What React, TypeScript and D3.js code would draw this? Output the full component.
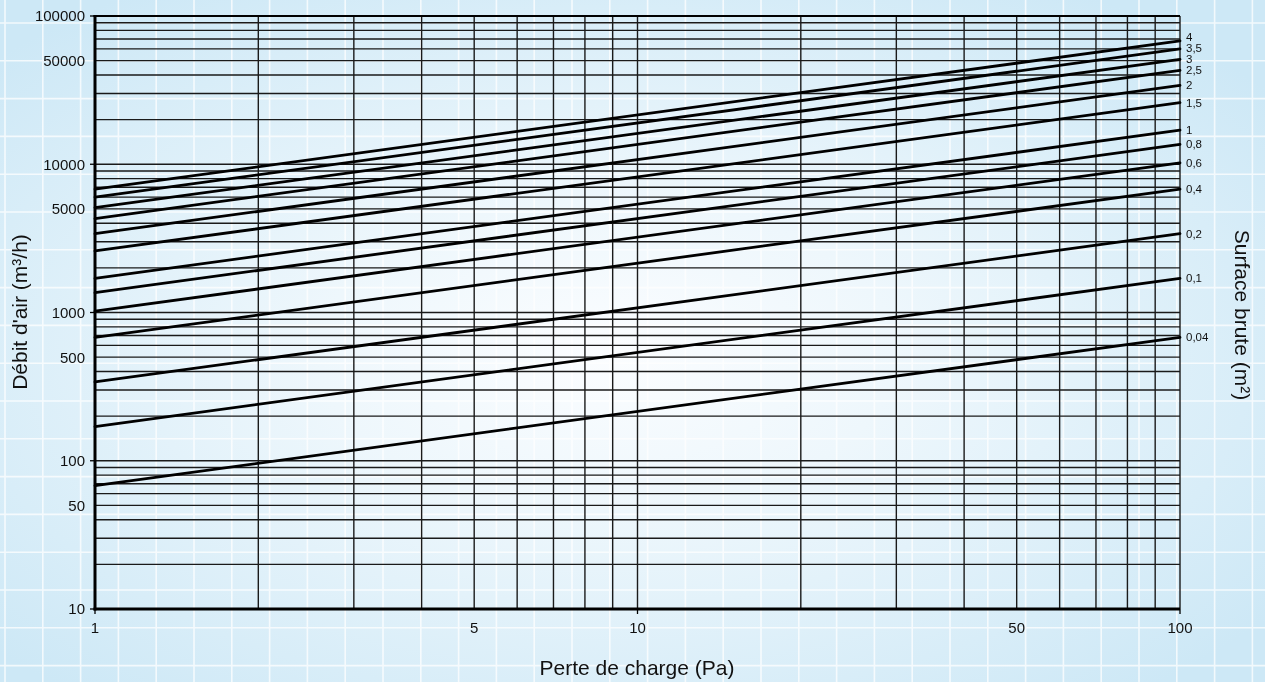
import React from "react";
import * as d3 from "d3";

// Surfaces brutes (m²) and air flow (m³/h) read at 1 Pa and 100 Pa
const surfaces = ["4", "3,5", "3", "2,5", "2", "1,5", "1", "0,8", "0,6", "0,4", "0,2", "0,1", "0,04"];
const flowAt1Pa = [6800, 6000, 5100, 4300, 3400, 2600, 1700, 1360, 1020, 680, 340, 170, 68];
const flowAt100Pa = [68000, 60000, 51000, 43000, 34000, 26000, 17000, 13600, 10200, 6800, 3400, 1700, 680];
const pressureEnds = [1, 100];

const xTickLabels = [1, 5, 10, 50, 100];
const yTickLabels = [10, 50, 100, 500, 1000, 5000, 10000, 50000, 100000];
const xDecades = [1, 10, 100];
const yDecades = [10, 100, 1000, 10000, 100000];

const W = 1265;
const H = 682;
const FONT = "'Liberation Sans', Arial, Helvetica, sans-serif";

export default function App() {
  const x = d3.scaleLog().domain([1, 100]).range([95, 1180]);
  const y = d3.scaleLog().domain([10, 100000]).range([609, 16]);
  const line = d3
    .line<[number, number]>()
    .x((d) => x(d[0]))
    .y((d) => y(d[1]));

  const step = 37.8;
  const bgV: number[] = [];
  for (let v = 5; v < W; v += step) bgV.push(v);
  const bgH: number[] = [];
  for (let v = 23 - step; v < H; v += step) if (v > 0) bgH.push(v);

  // label positions: at line ends, pushed apart (bottom-up) to keep them readable
  const labelY = flowAt100Pa.map((v) => y(v) + 1);
  for (let i = labelY.length - 2; i >= 0; i--) {
    if (labelY[i] > labelY[i + 1] - 11) labelY[i] = labelY[i + 1] - 11;
  }

  const fmt = (v: number) => String(v);

  return (
    <svg
      width={W}
      height={H}
      style={{ position: "fixed", left: 0, top: 0, display: "block" }}
      fontFamily={FONT}
    >
      <defs>
        <radialGradient id="bg" cx="48%" cy="52%" r="65%">
          <stop offset="0%" stopColor="#fbfdff" />
          <stop offset="35%" stopColor="#eef7fc" />
          <stop offset="100%" stopColor="#cde8f6" />
        </radialGradient>
      </defs>
      <rect x={0} y={0} width={W} height={H} fill="url(#bg)" />
      <g stroke="#ffffff" strokeWidth={1.6} opacity={0.75}>
        {bgV.map((v, i) => (
          <line key={"bv" + i} x1={v} x2={v} y1={0} y2={H} />
        ))}
        {bgH.map((v, i) => (
          <line key={"bh" + i} x1={0} x2={W} y1={v} y2={v} />
        ))}
      </g>

      {/* grid */}
      <g stroke="#1a1a1a" strokeWidth={1.4}>
        {y.ticks().map((t, i) => (
          <line key={"gy" + i} x1={x(1)} x2={x(100)} y1={y(t)} y2={y(t)} />
        ))}
        {x.ticks().map((t, i) => (
          <line key={"gx" + i} x1={x(t)} x2={x(t)} y1={y(10)} y2={y(100000)} />
        ))}
      </g>

      {/* axes */}
      <g stroke="#000" fill="none">
        <line x1={x(1)} x2={x(1)} y1={y(100000) - 1} y2={y(10) + 1.5} strokeWidth={3} />
        <line x1={x(1) - 1.5} x2={x(100)} y1={y(10)} y2={y(10)} strokeWidth={3} />
        <line x1={x(1) - 1.5} x2={x(100)} y1={y(100000)} y2={y(100000)} strokeWidth={2.2} />
        {yDecades.map((t, i) => (
          <line key={"yt" + i} x1={x(1) - 5} x2={x(1)} y1={y(t)} y2={y(t)} strokeWidth={1.3} />
        ))}
        {xDecades.map((t, i) => (
          <line key={"xt" + i} x1={x(t)} x2={x(t)} y1={y(10)} y2={y(10) + 5} strokeWidth={1.3} />
        ))}
      </g>

      {/* data lines */}
      <g stroke="#000" strokeWidth={2.8} fill="none" strokeLinecap="round">
        {surfaces.map((s, i) => (
          <path
            key={"l" + s}
            d={line(pressureEnds.map((p, j) => [p, j === 0 ? flowAt1Pa[i] : flowAt100Pa[i]] as [number, number])) || ""}
          />
        ))}
      </g>

      {/* series labels */}
      <g fontSize={11.5} fill="#111">
        {surfaces.map((s, i) => (
          <text key={"t" + s} x={x(100) + 6} y={labelY[i]} dominantBaseline="middle">
            {s}
          </text>
        ))}
      </g>

      {/* tick labels */}
      <g fontSize={15} fill="#111">
        {yTickLabels.map((t) => (
          <text key={"yl" + t} x={85} y={y(t) + 5.4} textAnchor="end">
            {fmt(t)}
          </text>
        ))}
        {xTickLabels.map((t) => (
          <text key={"xl" + t} x={x(t)} y={633} textAnchor="middle">
            {fmt(t)}
          </text>
        ))}
      </g>

      {/* axis titles */}
      <g fontSize={21} fill="#111">
        <text x={637} y={675} textAnchor="middle">
          Perte de charge (Pa)
        </text>
        <text transform="translate(27,312) rotate(-90)" textAnchor="middle">
          Débit d'air (m³/h)
        </text>
        <text transform="translate(1235,315) rotate(90)" textAnchor="middle">
          Surface brute (m²)
        </text>
      </g>
    </svg>
  );
}
